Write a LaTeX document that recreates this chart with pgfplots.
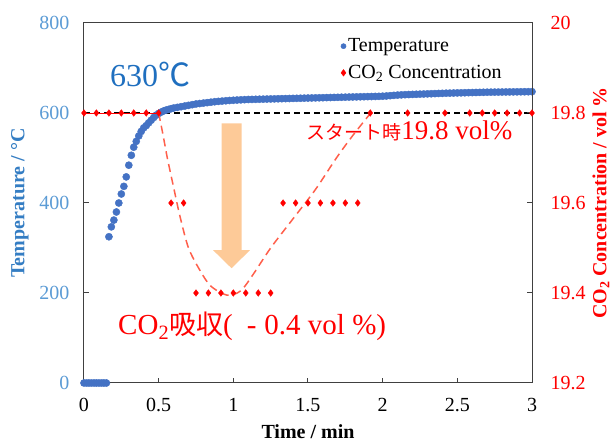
\documentclass[border=0pt]{standalone}
\usepackage{fontspec}
\setmainfont{Liberation Serif}
\newfontfamily\cjk{Noto Sans CJK JP}
\usepackage{pgfplots}
\pgfplotsset{compat=1.18}
\definecolor{tblue}{RGB}{68,114,196}
\definecolor{ticklblue}{RGB}{91,155,213}
\definecolor{lblblue}{RGB}{52,125,195}
\definecolor{hotblue}{RGB}{31,111,191}
\definecolor{fitred}{RGB}{255,95,75}
\definecolor{arroworange}{RGB}{253,202,152}
\definecolor{axgray}{RGB}{64,64,64}
\begin{document}
\begin{tikzpicture}
\useasboundingbox (-84pt,-60pt) rectangle (530pt,383pt);
\begin{axis}[
  scale only axis, width=448pt, height=360pt,
  xmin=0, xmax=3, ymin=0, ymax=800,
  xtick={0,0.5,1,1.5,2,2.5,3}, xticklabels={0,0.5,1,1.5,2,2.5,3},
  ytick={0,200,400,600,800}, yticklabels={0,200,400,600,800},
  xtick pos=bottom, ytick pos=left,
  tick align=inside, major tick length=5pt,
  axis line style={axgray, line width=1pt},
  every tick/.style={axgray, line width=1pt},
  tick label style={font=\fontsize{20}{24}\selectfont},
  yticklabel style={text=ticklblue},
  xticklabel shift=12pt, yticklabel shift=11pt,
  xlabel={\bfseries Time / min},
  xlabel style={at={(axis description cs:0.5,0)}, anchor=base, yshift=-56pt, font=\fontsize{20}{24}\selectfont},
  ylabel={\bfseries Temperature / °C},
  ylabel style={at={(axis description cs:-0.143,0.5)}, anchor=center, text=lblblue, font=\fontsize{20}{24}\selectfont},
  clip=false,
]
% arrow
\fill[arroworange] (axis cs:0.922,577) -- (axis cs:1.056,577) -- (axis cs:1.056,295) -- (axis cs:1.111,295) -- (axis cs:0.988,255) -- (axis cs:0.865,295) -- (axis cs:0.922,295) -- cycle;
% reference line
\addplot[black, line width=1.1pt, dash pattern=on 6pt off 4pt, forget plot] coordinates {(0,600) (3,600)};
% temperature
\addplot[only marks, mark=*, mark size=3.6pt, color=tblue, mark options={draw=none}, forget plot] coordinates {
(0,0) (0.017,0) (0.033,0) (0.05,0) (0.067,0) (0.083,0) (0.1,0) (0.117,0) (0.133,0) (0.15,0)
(0.167,325) (0.183,347) (0.200,362) (0.217,380) (0.233,400) (0.250,420) (0.267,437) (0.283,458)
(0.300,484) (0.317,506) (0.333,524) (0.350,537) (0.367,549) (0.383,559) (0.400,567) (0.417,572)
(0.433,578) (0.450,584) (0.467,590) (0.483,595) (0.500,599) (0.517,602) (0.533,604.5) (0.550,606.5)
(0.567,608) (0.583,609.5) (0.600,611)
(0.625,612.5) (0.65,614) (0.675,615.5) (0.70,617) (0.725,618.5) (0.75,620) (0.775,621) (0.80,622)
(0.825,623) (0.85,624) (0.875,625) (0.90,625.8) (0.925,626.5) (0.95,627.2) (0.975,627.8) (1.0,628.3)
(1.025,628.8) (1.05,629.2) (1.075,629.6) (1.10,630) (1.125,630.2) (1.15,630.4) (1.175,630.6) (1.2,630.8)
(1.225,631) (1.25,631.2) (1.275,631.4) (1.3,631.6) (1.325,631.8) (1.35,632) (1.375,632.2) (1.4,632.4)
(1.425,632.6) (1.45,632.8) (1.475,633) (1.5,633.2) (1.525,633.4) (1.55,633.6) (1.575,633.8) (1.6,634)
(1.625,634.2) (1.65,634.4) (1.675,634.6) (1.7,634.8) (1.725,635) (1.75,635.2) (1.775,635.4) (1.8,635.6)
(1.825,635.8) (1.85,636) (1.875,636.2) (1.9,636.4) (1.925,636.6) (1.95,636.8) (1.975,637) (2.0,637.3)
(2.025,637.8) (2.05,638.5) (2.075,639.2) (2.1,639.8) (2.125,640.3) (2.15,640.7) (2.175,641) (2.2,641.3)
(2.225,641.6) (2.25,641.9) (2.275,642.2) (2.3,642.5) (2.325,642.8) (2.35,643.1) (2.375,643.4) (2.4,643.7)
(2.425,644) (2.45,644.2) (2.475,644.4) (2.5,644.6) (2.525,644.8) (2.55,645) (2.575,645.2) (2.6,645.4)
(2.625,645.6) (2.65,645.8) (2.675,646) (2.7,646.2) (2.725,646.3) (2.75,646.4) (2.775,646.5) (2.8,646.6)
(2.825,646.7) (2.85,646.8) (2.875,646.9) (2.9,647) (2.925,647.1) (2.95,647.2) (2.975,647.3) (3.0,647.4)
};
\node[anchor=base, text=hotblue, inner sep=0pt, font=\fontsize{32}{36}\selectfont] at (axis cs:0.442,658) {630{\cjk ℃}};
\node[anchor=base west, text=red, inner sep=0pt] at (axis cs:1.487,540) {{\cjk\fontsize{19}{22}\selectfont スタート時}{\fontsize{27}{30}\selectfont 19.8 vol\%}};
\node[anchor=base west, text=red, inner sep=0pt, font=\fontsize{29}{32}\selectfont] at (axis cs:0.228,106.7) {CO\textsubscript{2}{\cjk\fontsize{27}{30}\selectfont 吸収}(\hspace{14pt}-\hspace{8pt}0.4 vol \%)};
\end{axis}
\begin{axis}[
  scale only axis, width=448pt, height=360pt,
  xmin=0, xmax=3, ymin=19.2, ymax=20,
  axis y line*=right, axis x line=none,
  ytick={19.2,19.4,19.6,19.8,20}, yticklabels={19.2,19.4,19.6,19.8,20},
  tick align=inside, major tick length=5pt,
  axis line style={axgray, line width=1pt},
  every tick/.style={axgray, line width=1pt},
  tick label style={font=\fontsize{20}{24}\selectfont},
  yticklabel style={text=red},
  yticklabel shift=15pt,
  ylabel={\bfseries CO\textsubscript{2} Concentration / vol \%},
  ylabel style={at={(axis description cs:1.154,0.5)}, anchor=center, text=red, font=\fontsize{20}{24}\selectfont},
  clip=false,
  legend style={draw=none, fill=none, at={(rel axis cs:0.573,0.962)}, anchor=north west, inner sep=0pt, font=\fontsize{20}{24}\selectfont, row sep=8pt, /tikz/every even column/.append style={column sep=7pt}},
  legend cell align=left,
]
\addlegendimage{only marks, mark=*, mark size=2.6pt, color=tblue, mark options={draw=none}}
\addlegendentry{Temperature}
\addplot[red, line width=0.8pt, forget plot] coordinates {(0,19.8) (0.5,19.8)};
\addplot[fitred, line width=1.5pt, dash pattern=on 8pt off 5pt, smooth, forget plot] coordinates {
(0.5,19.8) (0.53,19.75) (0.558,19.70) (0.60,19.635) (0.643,19.57) (0.70,19.50) (0.777,19.45)
(0.85,19.415) (0.96,19.395) (1.05,19.405) (1.13,19.44) (1.25,19.50) (1.40,19.565) (1.55,19.63)
(1.69,19.70) (1.80,19.75) (1.92,19.80)};
\addplot[only marks, mark=diamond*, mark size=3.3pt, color=red] coordinates {
(0,19.8) (0.083,19.8) (0.167,19.8) (0.25,19.8) (0.333,19.8) (0.417,19.8) (0.5,19.8)
(0.583,19.6) (0.667,19.6)
(0.75,19.4) (0.833,19.4) (0.917,19.4) (1.0,19.4) (1.083,19.4) (1.167,19.4) (1.25,19.4)
(1.333,19.6) (1.417,19.6) (1.5,19.6) (1.583,19.6) (1.667,19.6) (1.75,19.6) (1.833,19.6)
(1.917,19.8) (2.167,19.8) (2.417,19.8) (2.583,19.8) (2.667,19.8) (2.75,19.8) (2.833,19.8) (2.917,19.8) (3.0,19.8)};
\addlegendentry{CO\textsubscript{2} Concentration}
\end{axis}
\end{tikzpicture}
\end{document}
